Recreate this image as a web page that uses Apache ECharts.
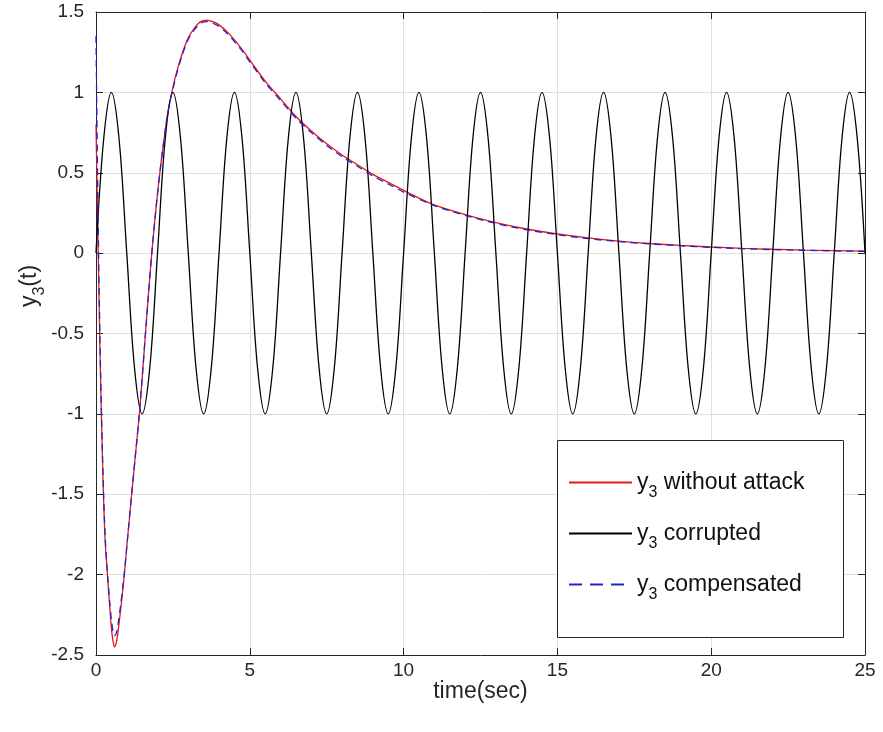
<!DOCTYPE html>
<html>
<head>
<meta charset="utf-8">
<script src="https://cdn.jsdelivr.net/npm/echarts@6/dist/echarts.min.js"></script>
<style>html,body{margin:0;padding:0;background:#fff}#c{width:883px;height:732px}</style>
</head>
<body>
<div id="c"></div>
<script>
// time samples for the response curves
const tResp = [0,0.05,0.1,0.15,0.2,0.25,0.3,0.35,0.4,0.45,0.5,0.55,0.6,0.65,0.7,0.8,0.9,1.0,1.1,1.2,1.3,1.4,1.5,1.6,1.7,1.8,1.9,2.0,2.1,2.2,2.3,2.4,2.5,2.6,2.8,3.0,3.2,3.4,3.6,3.8,4.0,4.3,4.7,5.0,5.5,6.0,6.5,7.0,7.5,8.0,8.5,9.0,9.5,10,11,12,13,14,15,16,17,18,19,20,21,22,23,24,25];
// y3 without attack
const yNoAttack = [0.80,0.25,-0.30,-0.80,-1.20,-1.55,-1.80,-1.94,-2.08,-2.21,-2.33,-2.41,-2.45,-2.43,-2.38,-2.22,-2.04,-1.83,-1.62,-1.42,-1.22,-1.02,-0.78,-0.52,-0.27,-0.03,0.18,0.37,0.54,0.69,0.83,0.94,1.03,1.11,1.24,1.34,1.40,1.44,1.45,1.44,1.42,1.37,1.28,1.20,1.07,0.96,0.85,0.76,0.68,0.61,0.55,0.49,0.44,0.39,0.30,0.24,0.19,0.15,0.12,0.095,0.075,0.06,0.048,0.038,0.03,0.024,0.019,0.015,0.012];
// y3 compensated
const yCompensated = [1.35,0.50,-0.20,-0.75,-1.18,-1.52,-1.77,-1.93,-2.06,-2.18,-2.28,-2.35,-2.38,-2.37,-2.33,-2.19,-2.03,-1.83,-1.62,-1.42,-1.22,-1.02,-0.78,-0.52,-0.27,-0.03,0.18,0.37,0.54,0.69,0.83,0.94,1.02,1.10,1.23,1.33,1.39,1.43,1.44,1.43,1.41,1.36,1.27,1.19,1.06,0.95,0.84,0.75,0.67,0.60,0.54,0.48,0.43,0.38,0.295,0.235,0.185,0.145,0.115,0.09,0.072,0.057,0.046,0.036,0.028,0.022,0.018,0.014,0.011];
// time samples for the corrupted signal
const tCorrupt = [0,0.25,0.5,0.75,1,1.25,1.5,1.75,2,2.25,2.5,2.75,3,3.25,3.5,3.75,4,4.25,4.5,4.75,5,5.25,5.5,5.75,6,6.25,6.5,6.75,7,7.25,7.5,7.75,8,8.25,8.5,8.75,9,9.25,9.5,9.75,10,10.25,10.5,10.75,11,11.25,11.5,11.75,12,12.25,12.5,12.75,13,13.25,13.5,13.75,14,14.25,14.5,14.75,15,15.25,15.5,15.75,16,16.25,16.5,16.75,17,17.25,17.5,17.75,18,18.25,18.5,18.75,19,19.25,19.5,19.75,20,20.25,20.5,20.75,21,21.25,21.5,21.75,22,22.25,22.5,22.75,23,23.25,23.5,23.75,24,24.25,24.5,24.75,25];
// y3 corrupted
const yCorrupt = [
0,0.71,1,0.71,0,-0.71,-1,-0.71,
0,0.71,1,0.71,0,-0.71,-1,-0.71,
0,0.71,1,0.71,0,-0.71,-1,-0.71,
0,0.71,1,0.71,0,-0.71,-1,-0.71,
0,0.71,1,0.71,0,-0.71,-1,-0.71,
0,0.71,1,0.71,0,-0.71,-1,-0.71,
0,0.71,1,0.71,0,-0.71,-1,-0.71,
0,0.71,1,0.71,0,-0.71,-1,-0.71,
0,0.71,1,0.71,0,-0.71,-1,-0.71,
0,0.71,1,0.71,0,-0.71,-1,-0.71,
0,0.71,1,0.71,0,-0.71,-1,-0.71,
0,0.71,1,0.71,0,-0.71,-1,-0.71,
0,0.71,1,0.71,0];
const xTicks = [0,5,10,15,20,25];
const yTicks = [-2.5,-2,-1.5,-1,-0.5,0,0.5,1,1.5];
const seriesNames = ['y3 without attack','y3 corrupted','y3 compensated'];
const legendLabels = [' without attack',' corrupted',' compensated'];

const pairs = (t, y) => t.map((v, i) => [v, y[i]]);
const FONT = '"Liberation Sans", Arial, Helvetica, sans-serif';
const AX = '#262626';

const chart = echarts.init(document.getElementById('c'), null, {renderer: 'canvas'});

const baseX = {
  type: 'value', min: xTicks[0], max: xTicks[xTicks.length - 1], interval: 5
};
const baseY = {
  type: 'value', min: yTicks[0], max: yTicks[yTicks.length - 1], interval: 0.5
};

const legendRich = {
  n: {fontFamily: FONT, fontSize: 23, color: '#111', lineHeight: 26, verticalAlign: 'middle'},
  s: {fontFamily: FONT, fontSize: 16, color: '#111', lineHeight: 36, verticalAlign: 'bottom'}
};
const legendTops = [471, 522, 573];
const legendDash = ['solid', 'solid', [13, 8]];
const legends = seriesNames.map((name, i) => ({
  data: [name],
  left: 568,
  top: legendTops[i],
  itemWidth: 63,
  itemHeight: 14,
  itemGap: 5,
  padding: 0,
  selectedMode: false,
  itemStyle: {opacity: 0},
  lineStyle: {type: legendDash[i]},
  formatter: () => '{n|y}{s|3}{n|' + legendLabels[i] + '}',
  textStyle: {rich: legendRich, fontFamily: FONT, fontSize: 23, color: '#111'},
  z: 20
}));

chart.setOption({
  animation: false,
  backgroundColor: '#fff',
  textStyle: {fontFamily: FONT},
  grid: {left: 96, right: 18, top: 12, bottom: 77, containLabel: false},
  xAxis: [
    Object.assign({}, baseX, {
      position: 'bottom',
      name: 'time(sec)', nameLocation: 'middle', nameGap: 25, nameMoveOverlap: false,
      nameTextStyle: {fontFamily: FONT, fontSize: 23, color: AX},
      axisLine: {show: true, onZero: false, lineStyle: {color: AX, width: 1}},
      axisTick: {show: true, inside: true, length: 7, lineStyle: {color: AX}},
      axisLabel: {fontFamily: FONT, fontSize: 19, color: AX, margin: 6},
      splitLine: {show: true, lineStyle: {color: '#dfdfdf', width: 1}}
    }),
    Object.assign({}, baseX, {
      position: 'top',
      axisLine: {show: true, onZero: false, lineStyle: {color: AX, width: 1}},
      axisTick: {show: true, inside: true, length: 7, lineStyle: {color: AX}},
      axisLabel: {show: false},
      splitLine: {show: false}
    })
  ],
  yAxis: [
    Object.assign({}, baseY, {
      position: 'left',
      axisLine: {show: true, onZero: false, lineStyle: {color: AX, width: 1}},
      axisTick: {show: true, inside: true, length: 7, lineStyle: {color: AX}},
      axisLabel: {fontFamily: FONT, fontSize: 19, color: AX, margin: 12},
      splitLine: {show: true, lineStyle: {color: '#dfdfdf', width: 1}}
    }),
    Object.assign({}, baseY, {
      position: 'right',
      axisLine: {show: true, onZero: false, lineStyle: {color: AX, width: 1}},
      axisTick: {show: true, inside: true, length: 7, lineStyle: {color: AX}},
      axisLabel: {show: false},
      splitLine: {show: false}
    })
  ],
  legend: legends,
  graphic: [
    {
      type: 'rect', z: 15, left: 557, top: 440,
      shape: {width: 286, height: 197},
      style: {fill: '#fff', stroke: AX, lineWidth: 1}
    },
    {
      type: 'text', x: 30, y: 286, rotation: Math.PI / 2, z: 20,
      style: {
        text: '{n|y}{s|3}{n|(t)}',
        align: 'center', verticalAlign: 'middle',
        rich: {
          n: {fontFamily: FONT, fontSize: 23, fill: AX, lineHeight: 26, verticalAlign: 'middle'},
          s: {fontFamily: FONT, fontSize: 16, fill: AX, lineHeight: 36, verticalAlign: 'bottom'}
        }
      }
    }
  ],
  series: [
    {
      name: seriesNames[0], type: 'line', xAxisIndex: 0, yAxisIndex: 0,
      data: pairs(tResp, yNoAttack), showSymbol: false, symbol: 'none', smooth: 0.3,
      lineStyle: {color: '#e8161b', width: 1.3}, itemStyle: {color: '#e8161b'}, z: 3
    },
    {
      name: seriesNames[1], type: 'line', xAxisIndex: 0, yAxisIndex: 0,
      data: pairs(tCorrupt, yCorrupt), showSymbol: false, symbol: 'none', smooth: 0.35,
      lineStyle: {color: '#000000', width: 1.3}, itemStyle: {color: '#000000'}, z: 4
    },
    {
      name: seriesNames[2], type: 'line', xAxisIndex: 0, yAxisIndex: 0,
      data: pairs(tResp, yCompensated), showSymbol: false, symbol: 'none', smooth: 0.3,
      lineStyle: {color: '#2222cc', width: 1.3, type: [7, 5]}, itemStyle: {color: '#2222cc'}, z: 5
    }
  ]
});
</script>
</body>
</html>
